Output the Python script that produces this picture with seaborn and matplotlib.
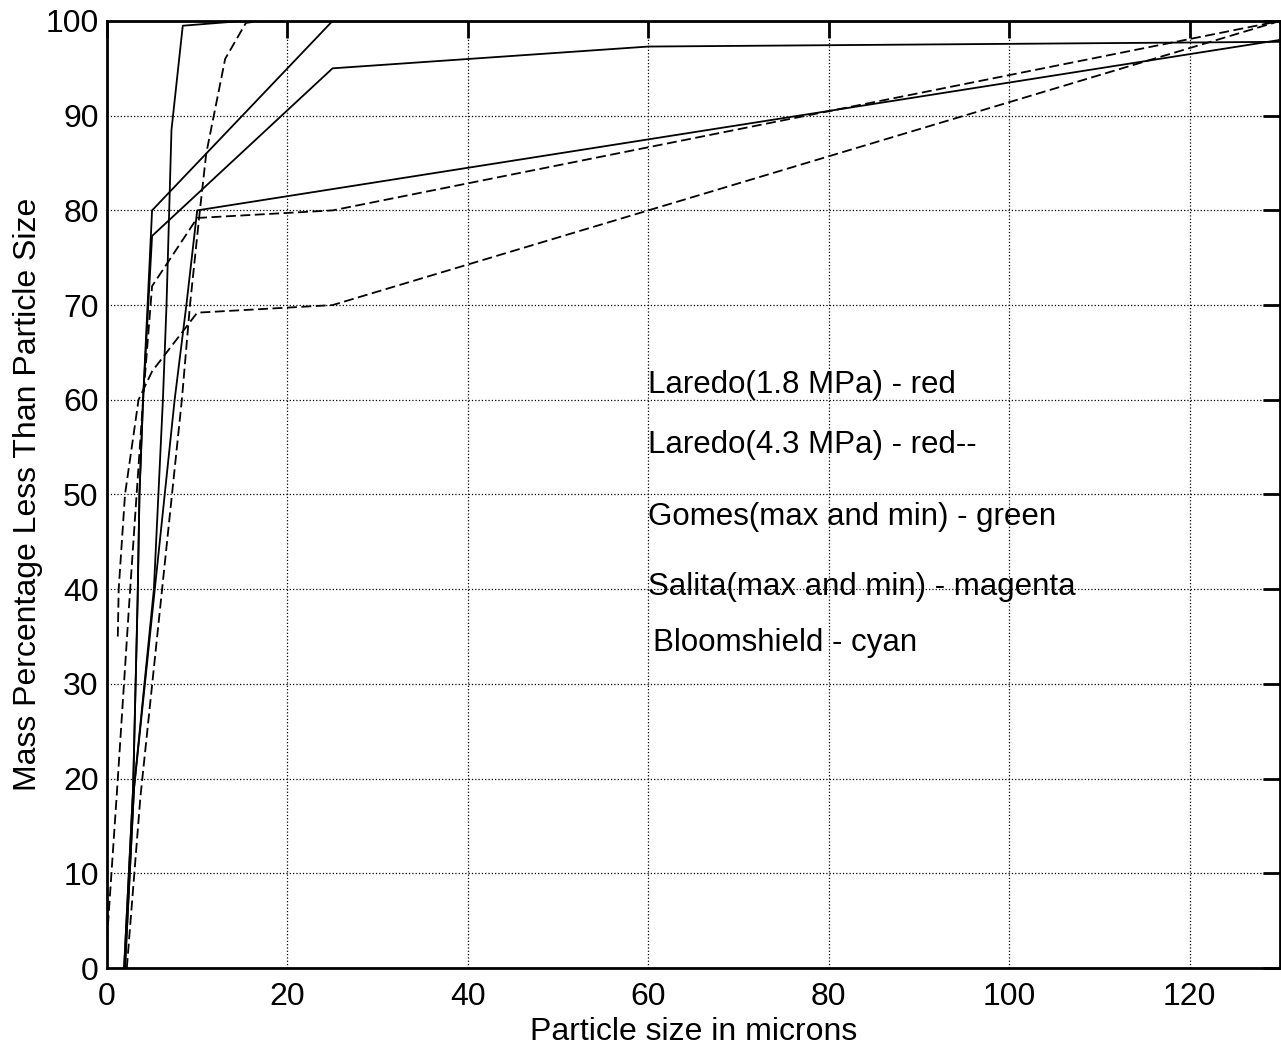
import matplotlib
matplotlib.use("Agg")
import matplotlib.pyplot as plt
import seaborn as sns

# Series (particle size in microns, mass % less than size)
laredo18_x = [2, 3, 5.2, 6.2, 6.6, 7.15, 8.4, 15, 130]
laredo18_y = [0, 19, 40, 60, 70, 88.5, 99.5, 100, 100]

laredo43_x = [2.2, 3.7, 6, 8.3, 9.2, 10.3, 11, 13.1, 15.4, 17, 130]
laredo43_y = [0, 18, 39, 60, 70, 80, 86, 96, 99.8, 100, 100]

gomes_max_x = [1.9, 2.9, 3.4, 3.6, 4.0, 5, 25, 130]
gomes_max_y = [0, 19, 39, 50, 60, 80, 100, 100]

gomes_min_x = [1.9, 2.9, 3.4, 3.6, 4.0, 5, 25, 60, 130]
gomes_min_y = [0, 19, 39, 50, 60, 77.3, 95, 97.3, 97.8]

salita_max_x = [0, 1.1, 2.5, 4.0, 5, 10, 25, 130]
salita_max_y = [3, 18.5, 39, 60, 72, 79.2, 80, 100]

salita_min_x = [1.2, 1.3, 2.0, 3.5, 5, 10, 25, 130]
salita_min_y = [35, 40, 50, 60, 63, 69.2, 70, 100]

bloom_x = [2, 3, 5.3, 7.5, 8.8, 10, 130]
bloom_y = [0, 19, 40, 60, 70, 80, 98]

notes = ["Laredo(1.8 MPa) - red",
         "Laredo(4.3 MPa) - red--",
         "Gomes(max and min) - green",
         "Salita(max and min) - magenta",
         "Bloomshield - cyan"]
note_x = [60.0, 60.0, 60.0, 60.0, 60.5]
note_y = [61.6, 55.2, 47.6, 40.2, 34.3]

sns.set_style("white")
plt.rcParams['font.family'] = ['Liberation Sans', 'DejaVu Sans']
plt.rcParams.update({"text.color": "black", "axes.labelcolor": "black",
                     "xtick.color": "black", "ytick.color": "black"})

fig = plt.figure(figsize=(12.81, 10.49), dpi=100)
ax = fig.add_axes([0.0835, 0.0772, 0.9157, 0.9028])

dash = (0, (5.5, 2.5))
series = [
    (laredo18_x, laredo18_y, "-"),
    (laredo43_x, laredo43_y, dash),
    (gomes_max_x, gomes_max_y, "-"),
    (gomes_min_x, gomes_min_y, "-"),
    (salita_max_x, salita_max_y, dash),
    (salita_min_x, salita_min_y, dash),
    (bloom_x, bloom_y, "-"),
]
for xs, ys, ls in series:
    sns.lineplot(x=xs, y=ys, ax=ax, color="black", linestyle=ls,
                 linewidth=1.3, estimator=None, sort=False)

for txt, tx, ty in zip(notes, note_x, note_y):
    ax.text(tx, ty, txt, fontsize=22.5, va="center", ha="left")

ax.set_xlim(0, 130)
ax.set_ylim(0, 100)
ax.set_xticks(range(0, 121, 20))
ax.set_yticks(range(0, 101, 10))
ax.grid(True, linestyle=":", color="black", linewidth=0.9)
ax.tick_params(direction="in", length=12, width=2, labelsize=23,
               top=True, right=True)
ax.tick_params(axis="x", pad=10)
ax.tick_params(axis="y", pad=6)
for sp in ax.spines.values():
    sp.set_linewidth(2)
    sp.set_color("black")

ax.set_xlabel("Particle size in microns", fontsize=23, labelpad=4)
ax.set_ylabel("Mass Percentage Less Than Particle Size", fontsize=23, labelpad=2)

fig.savefig("out.png", dpi=100)
